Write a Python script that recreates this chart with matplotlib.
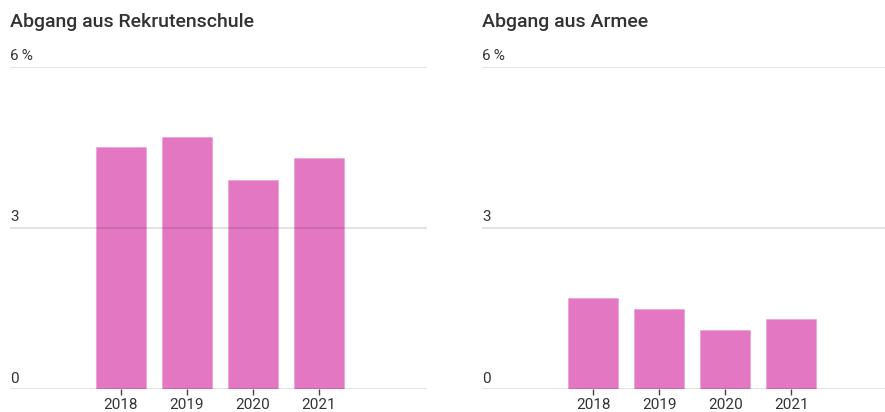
import numpy as np
import matplotlib.pyplot as plt
from matplotlib.transforms import blended_transform_factory

plt.rcParams['font.family'] = ['Roboto', 'DejaVu Sans']

years = ["2018", "2019", "2020", "2021"]
rekrutenschule = [4.5, 4.7, 3.9, 4.3]
armee = [1.7, 1.5, 1.1, 1.3]
titles = ["Abgang aus Rekrutenschule", "Abgang aus Armee"]
y_ticks = [0, 3, 6]
y_labels = ["0", "3", "6\u2009%"]

bar_color = "#e377c2"
text_color = "#333333"

fig = plt.figure(figsize=(8.85, 4.12), dpi=100)

# axes positions in figure pixels (left, right, xlim)
panels = [
    (10, 427, (-1.677, 4.64), rekrutenschule),
    (482, 885, (-1.686, 4.42), armee),
]
bottom = 1 - 389.3 / 412
top = 1 - 66.7 / 412

for (left, right, xlim, values), title in zip(panels, titles):
    ax = fig.add_axes([left / 885, bottom, (right - left) / 885, top - bottom])
    x = np.arange(len(years))
    ax.bar(x, values, width=0.76, color=bar_color, edgecolor="#eda5d8",
           linewidth=0.6, zorder=1)
    ax.set_xlim(xlim)
    ax.set_ylim(0, 6)

    # grid lines drawn on top, semi-transparent
    for t in y_ticks:
        ax.axhline(t, color=(0, 0, 0, 0.13), linewidth=1.2, zorder=3)

    trans = blended_transform_factory(ax.transAxes, ax.transData)
    for t, lab in zip(y_ticks, y_labels):
        ax.text(0, t + 0.07, lab, transform=trans, ha="left", va="bottom",
                fontsize=11, color=text_color)

    ax.set_xticks(x)
    ax.set_xticklabels(years, fontsize=11, color=text_color)
    ax.tick_params(axis="x", length=4, width=1, color="#444444", pad=2)
    ax.set_yticks([])
    for s in ax.spines.values():
        s.set_visible(False)

    fig.text(left / 885, 1 - 22 / 412, title, ha="left", va="center",
             fontsize=14, fontweight="medium", color=text_color)

fig.savefig("out.png", dpi=100)
